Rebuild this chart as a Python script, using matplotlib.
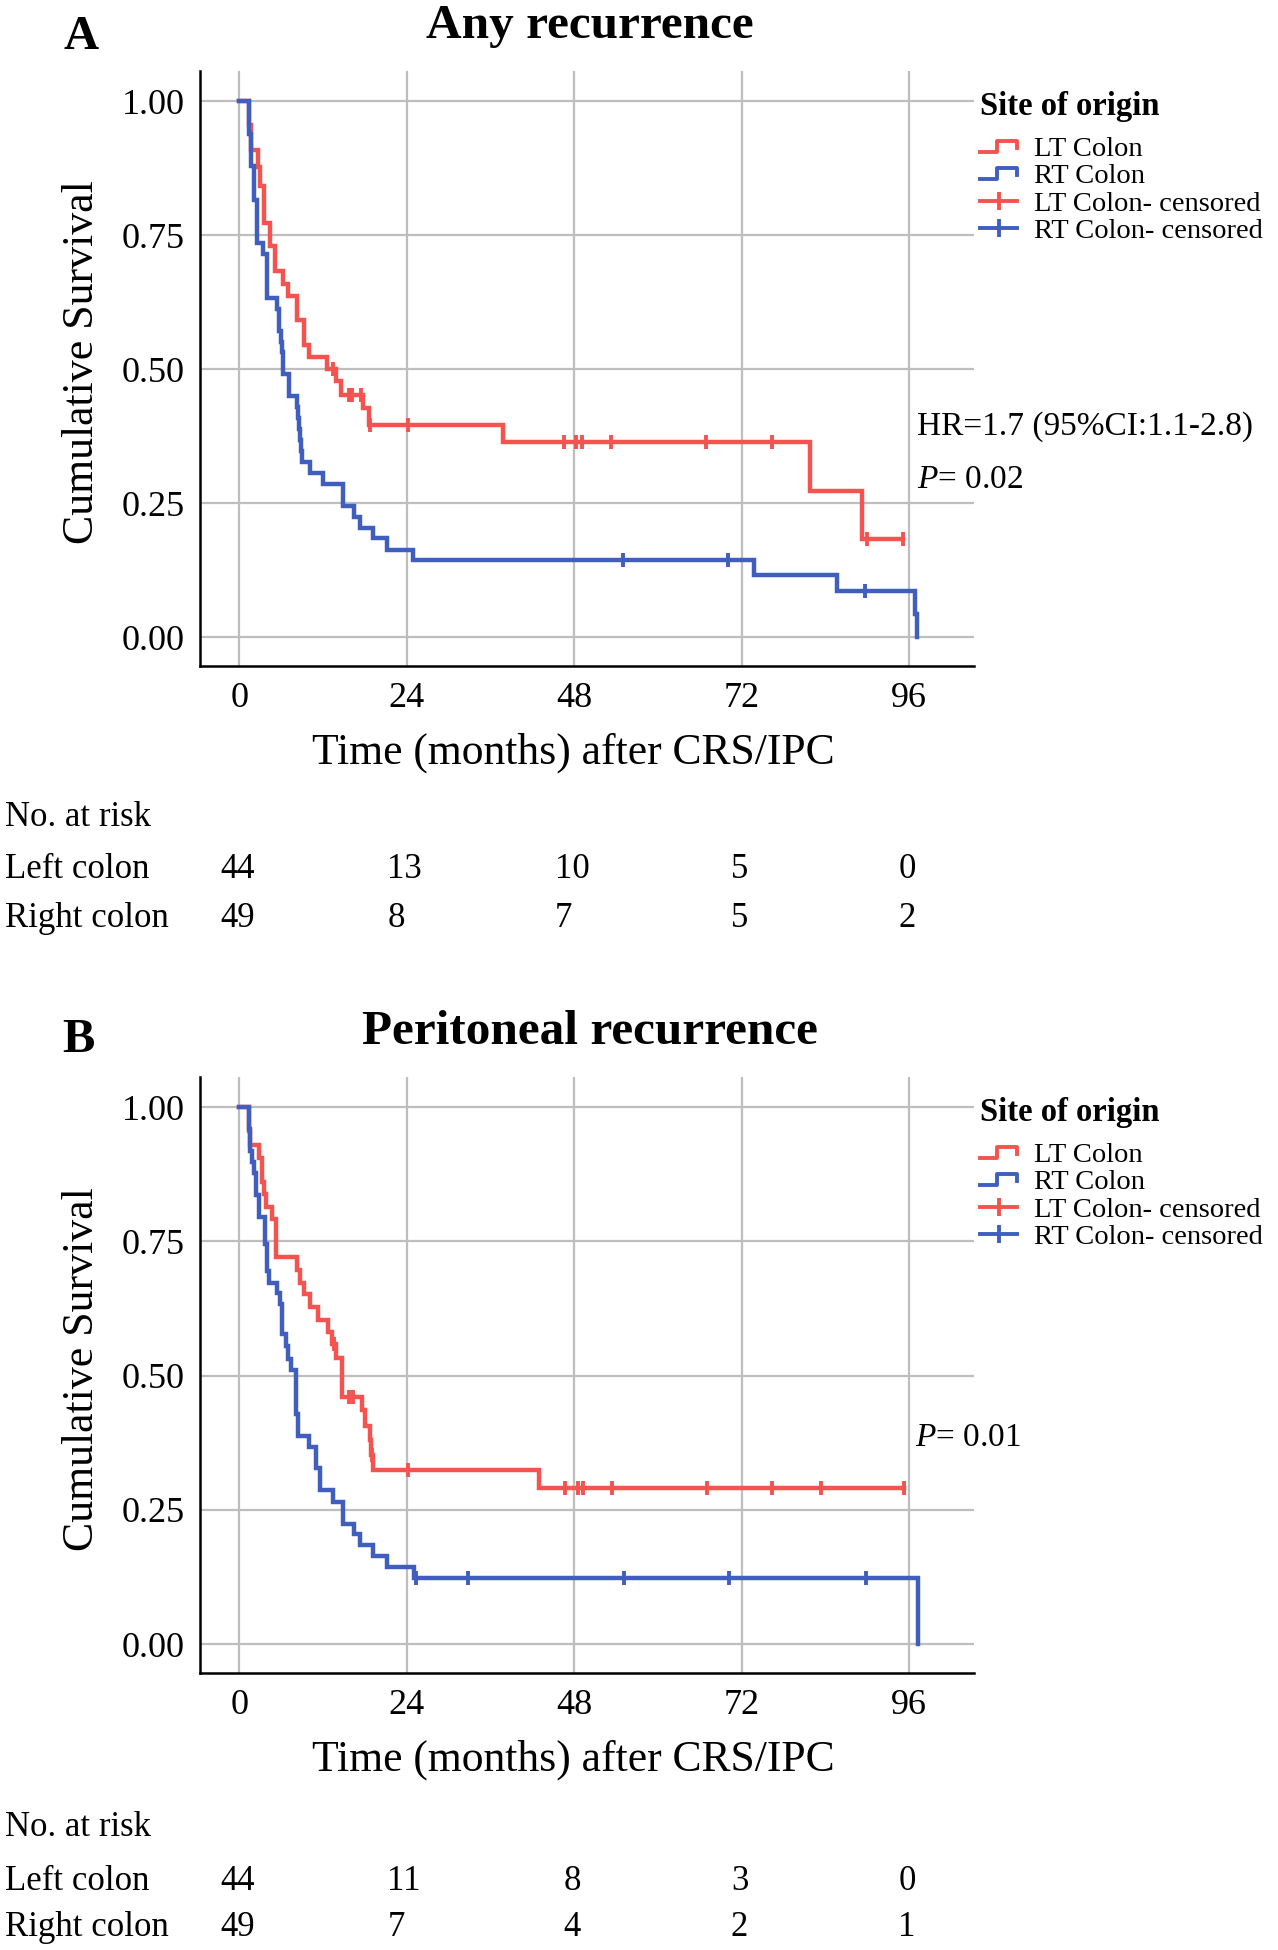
import numpy as np
import matplotlib
matplotlib.use("Agg")
import matplotlib.pyplot as plt
from matplotlib.lines import Line2D
from matplotlib.legend_handler import HandlerBase
from matplotlib.transforms import blended_transform_factory, offset_copy

plt.rcParams["font.family"] = ["Liberation Serif", "DejaVu Serif"]
plt.rcParams["mathtext.fontset"] = "custom"
plt.rcParams["mathtext.rm"] = "Liberation Serif"
plt.rcParams["mathtext.it"] = "Liberation Serif:italic"

# ---- data (months, cumulative survival) ----
# A: any recurrence
a_lt_t = [0, 1.3, 1.6, 2.7, 3.0, 3.5, 4.4, 5.1, 6.3, 7.0, 8.2, 9.2, 9.9, 12.5,
          13.9, 14.5, 17.7, 18.6, 37.8, 81.8, 89.2]
a_lt_s = [1.0, 0.955, 0.909, 0.877, 0.841, 0.773, 0.730, 0.682, 0.659, 0.636,
          0.591, 0.545, 0.523, 0.500, 0.477, 0.451, 0.427, 0.396, 0.364, 0.273, 0.182]
a_lt_end = 95.1
a_lt_cens = [13.4, 15.7, 16.2, 17.4, 18.7, 24.2, 46.5, 48.3, 49.1, 53.2, 66.9,
             76.3, 90.0, 95.1]

a_rt_t = [0, 1.4, 1.65, 2.1, 2.5, 3.4, 4.0, 5.4, 5.6, 6.0, 6.15, 6.25, 6.3, 7.1,
          8.2, 8.4, 8.6, 8.7, 8.8, 8.9, 10.1, 12.0, 14.9, 16.4, 17.3, 19.2, 21.1,
          24.9, 73.7, 85.7, 96.8, 97.2]
a_rt_s = [1.0, 0.939, 0.878, 0.816, 0.735, 0.714, 0.633, 0.612, 0.571, 0.551,
          0.531, 0.510, 0.490, 0.449, 0.429, 0.408, 0.388, 0.367, 0.347, 0.327,
          0.306, 0.286, 0.245, 0.224, 0.204, 0.184, 0.163, 0.143, 0.115, 0.086,
          0.043, 0.0]
a_rt_end = 97.2
a_rt_cens = [55.0, 70.1, 89.7]

# B: peritoneal recurrence
b_lt_t = [0, 1.3, 1.5, 2.8, 3.2, 3.5, 3.8, 4.6, 5.2, 8.3, 8.7, 9.2, 10.1, 11.3,
          12.7, 13.2, 13.9, 14.7, 17.5, 18.0, 18.7, 18.8, 19.1, 43.0]
b_lt_s = [1.0, 0.955, 0.930, 0.905, 0.860, 0.838, 0.814, 0.792, 0.721, 0.696,
          0.672, 0.651, 0.628, 0.604, 0.581, 0.559, 0.533, 0.460, 0.435, 0.406,
          0.380, 0.352, 0.324, 0.290]
b_lt_end = 95.3
b_lt_cens = [13.5, 15.7, 16.3, 18.95, 24.2, 46.7, 48.6, 49.3, 53.4, 67.0, 76.4,
             83.3, 95.3]

b_rt_t = [0, 1.4, 1.5, 1.75, 2.1, 2.3, 2.8, 3.65, 4.0, 4.3, 5.4, 5.8, 6.1, 6.6,
          6.95, 7.35, 8.1, 8.45, 9.9, 11.0, 11.5, 13.45, 14.9, 16.4, 17.3, 19.2,
          21.1, 25.0, 97.3]
b_rt_s = [1.0, 0.959, 0.918, 0.898, 0.878, 0.837, 0.796, 0.745, 0.694, 0.673,
          0.653, 0.633, 0.578, 0.555, 0.531, 0.510, 0.429, 0.388, 0.367, 0.327,
          0.286, 0.265, 0.224, 0.204, 0.184, 0.163, 0.143, 0.122, 0.0]
b_rt_end = 97.3
b_rt_cens = [25.3, 32.7, 55.1, 70.2, 89.8]

x_ticks = [0, 24, 48, 72, 96]
y_ticks = [0.0, 0.25, 0.50, 0.75, 1.00]
risk_left_a = [44, 13, 10, 5, 0]
risk_right_a = [49, 8, 7, 5, 2]
risk_left_b = [44, 11, 8, 3, 0]
risk_right_b = [49, 7, 4, 2, 1]

RED = "#F5534F"
BLUE = "#3F5EBD"
GRID = "#BEBEBE"
W, H = 1278, 1950


class StepHandler(HandlerBase):
    # little step icon like the SPSS legend
    def create_artists(self, legend, orig_handle, xdescent, ydescent, width,
                       height, fontsize, trans):
        xs = np.array([0, 0.45, 0.45, 1, 1]) * width - xdescent
        ys = np.array([0.2, 0.2, 0.75, 0.75, 0.4]) * height - ydescent
        ln = Line2D(xs, ys, color=orig_handle.get_color(),
                    lw=orig_handle.get_linewidth(), transform=trans)
        return [ln]


def km(ax, t, s, end, cens, color):
    t = np.asarray(t)
    s = np.asarray(s)
    ax.plot(np.append(t, end), np.append(s, s[-1]), drawstyle="steps-post",
            color=color, lw=3.2, solid_joinstyle="miter", zorder=3)
    idx = np.searchsorted(t, cens, side="right") - 1
    ax.plot(cens, s[idx], ls="none", marker="|", ms=10, mew=2.8, color=color,
            zorder=4)


def panel(rect, lt, rt, top_px, label, title, stats, risk_l, risk_r, rows_px):
    ax = fig.add_axes(rect)
    km(ax, *lt, RED)
    km(ax, *rt, BLUE)
    ax.set_xlim(-5.66, 105.3)
    ax.set_ylim(-0.054, 1.056)
    ax.set_xticks(x_ticks)
    ax.set_yticks(y_ticks)
    ax.set_yticklabels([f"{v:.2f}" for v in y_ticks])
    ax.grid(color=GRID, lw=1.6)
    ax.set_axisbelow(True)
    for sp in ["top", "right"]:
        ax.spines[sp].set_visible(False)
    for sp in ["left", "bottom"]:
        ax.spines[sp].set_linewidth(1.8)
    ax.tick_params(axis="x", length=0, labelsize=26, pad=11.5)
    ax.tick_params(axis="y", length=0, labelsize=26, pad=11)
    ax.set_xlabel("Time (months) after CRS/IPC", fontsize=31.4, va="center")
    ax.xaxis.set_label_coords(0.482, -0.145)
    ax.set_ylabel("Cumulative Survival", fontsize=31.6, va="center")
    ax.yaxis.set_label_coords(-0.153, 0.51)

    handles = [Line2D([], [], color=RED, lw=2.8),
               Line2D([], [], color=BLUE, lw=2.8),
               Line2D([], [], color=RED, lw=2.8, marker="|", ms=13, mew=2.8),
               Line2D([], [], color=BLUE, lw=2.8, marker="|", ms=13, mew=2.8)]
    labels = ["LT Colon", "RT Colon", "LT Colon- censored", "RT Colon- censored"]
    leg = ax.legend(handles, labels, loc="upper left",
                    bbox_to_anchor=(1.008, 0.966), frameon=False, fontsize=20.5,
                    title="Site of origin",
                    title_fontproperties={"weight": "bold", "size": 23.5},
                    alignment="left", handlelength=1.3, handletextpad=0.6,
                    labelspacing=0.05, borderpad=0, borderaxespad=0,
                    numpoints=1,
                    handler_map={handles[0]: StepHandler(),
                                 handles[1]: StepHandler()})
    leg._legend_box.sep = 10

    fig.text(590 / W, 1 - (top_px - 45) / H, title, fontsize=35.5,
             fontweight="bold", ha="center", va="center")
    fig.text(label[1] / W, 1 - label[2] / H, label[0], fontsize=35,
             fontweight="bold", ha="center", va="center")
    for txt, x, y in stats:
        fig.text(x / W, 1 - y / H, txt, fontsize=24, ha="left", va="center")

    # number at risk table
    tr = blended_transform_factory(ax.transData, fig.transFigure)
    y0, y1, y2 = [1 - r / H for r in rows_px]
    fig.text(5 / W, y0, "No. at risk", fontsize=25, ha="left", va="center")
    fig.text(5 / W, y1, "Left colon", fontsize=25, ha="left", va="center")
    fig.text(5 / W, y2, "Right colon", fontsize=25, ha="left", va="center")
    for xt, nl, nr in zip(x_ticks, risk_l, risk_r):
        shift = offset_copy(tr, fig=fig, x=-len(str(nl)) * 0.25 * 25 - 1.5,
                            units="points")
        ax.text(xt, y1, str(nl), transform=shift, fontsize=25, ha="left",
                va="center")
        ax.text(xt, y2, str(nr), transform=shift, fontsize=25, ha="left",
                va="center")
    return ax


fig = plt.figure(figsize=(W / 100, H / 100), dpi=100)

panel([200 / W, (H - 666) / H, 774 / W, 595 / H],
      (a_lt_t, a_lt_s, a_lt_end, a_lt_cens), (a_rt_t, a_rt_s, a_rt_end, a_rt_cens),
      71, ("A", 81, 37), "Any recurrence",
      [("HR=1.7 (95%CI:1.1-2.8)", 917, 427), (r"$\it{P}$= 0.02", 917, 480)],
      risk_left_a, risk_right_a, (818, 869, 918))

panel([200 / W, (H - 1673) / H, 774 / W, 596 / H],
      (b_lt_t, b_lt_s, b_lt_end, b_lt_cens), (b_rt_t, b_rt_s, b_rt_end, b_rt_cens),
      1077, ("B", 78, 1040), "Peritoneal recurrence",
      [(r"$\it{P}$= 0.01", 915, 1438)],
      risk_left_b, risk_right_b, (1828, 1881, 1928))

fig.savefig("out.png", dpi=100, facecolor="white")
